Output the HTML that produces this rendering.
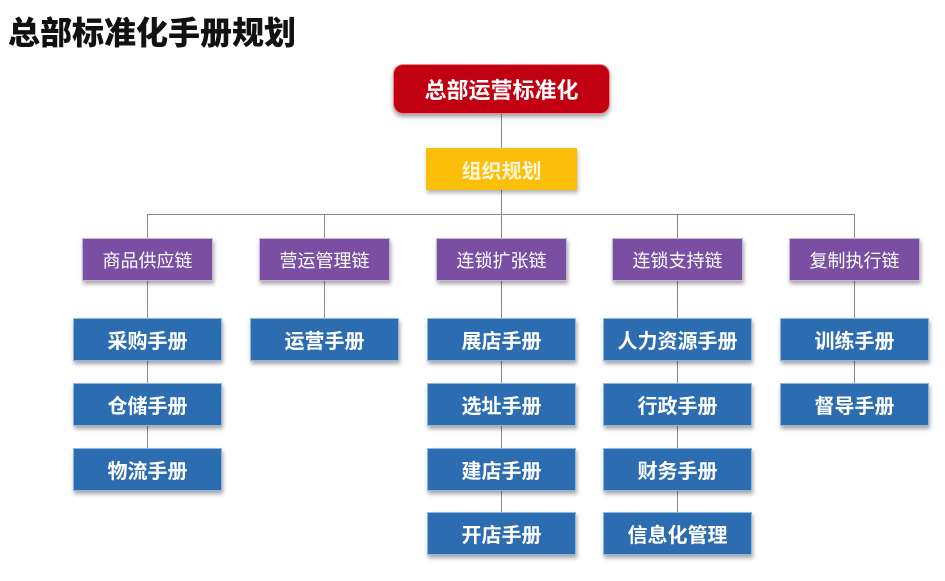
<!DOCTYPE html>
<html><head><meta charset="utf-8"><style>
body{margin:0;width:945px;height:581px;background:#fff;position:relative;overflow:hidden;font-family:"Liberation Sans","Noto Sans CJK SC",sans-serif}
.t{position:absolute;left:8px;top:8px;font-size:32px;font-weight:900;color:#111}
.b{position:absolute;display:flex;align-items:center;justify-content:center;color:#fff;box-sizing:border-box}
.r{left:393px;top:64px;width:217px;height:50px;background:#c00010;border-radius:10px;font-size:22px;font-weight:bold;box-shadow:0 3px 4px rgba(0,0,0,.35);border:1px solid #e88}
.y{left:426px;top:148px;width:151px;height:42px;background:#fbbf09;font-size:20px;font-weight:bold;color:#fff5d8;box-shadow:1px 3px 4px rgba(0,0,0,.3)}
.p{top:238px;width:131px;height:43px;background:#7a4fa3;font-size:18px;box-shadow:1px 3px 4px rgba(0,0,0,.35);border:1px solid #c9b6dd}
.u{width:149px;height:43px;background:#2c6db1;font-size:20px;font-weight:bold;box-shadow:1px 3px 4px rgba(0,0,0,.35);border:1px solid #8fb6de}
.l{position:absolute;background:#888}
</style></head><body>
<div class="t">总部标准化手册规划</div>
<div class="l" style="left:501px;top:114px;width:1px;height:100px"></div>
<div class="l" style="left:147px;top:214px;width:708px;height:1px"></div>
<div class="l" style="left:147px;top:214px;width:1px;height:256px"></div>
<div class="l" style="left:324px;top:214px;width:1px;height:110px"></div>
<div class="l" style="left:501px;top:214px;width:1px;height:320px"></div>
<div class="l" style="left:677px;top:214px;width:1px;height:320px"></div>
<div class="l" style="left:854px;top:214px;width:1px;height:190px"></div>
<div class="b r">总部运营标准化</div>
<div class="b y">组织规划</div>
<div class="b p" style="left:82px">商品供应链</div>
<div class="b p" style="left:259px">营运管理链</div>
<div class="b p" style="left:436px">连锁扩张链</div>
<div class="b p" style="left:612px">连锁支持链</div>
<div class="b p" style="left:789px">复制执行链</div>
<div class="b u" style="left:73px;top:318px">采购手册</div>
<div class="b u" style="left:73px;top:383px">仓储手册</div>
<div class="b u" style="left:73px;top:448px">物流手册</div>
<div class="b u" style="left:250px;top:318px">运营手册</div>
<div class="b u" style="left:427px;top:318px">展店手册</div>
<div class="b u" style="left:427px;top:383px">选址手册</div>
<div class="b u" style="left:427px;top:448px">建店手册</div>
<div class="b u" style="left:427px;top:512px">开店手册</div>
<div class="b u" style="left:603px;top:318px">人力资源手册</div>
<div class="b u" style="left:603px;top:383px">行政手册</div>
<div class="b u" style="left:603px;top:448px">财务手册</div>
<div class="b u" style="left:603px;top:512px">信息化管理</div>
<div class="b u" style="left:780px;top:318px">训练手册</div>
<div class="b u" style="left:780px;top:383px">督导手册</div>
</body></html>
